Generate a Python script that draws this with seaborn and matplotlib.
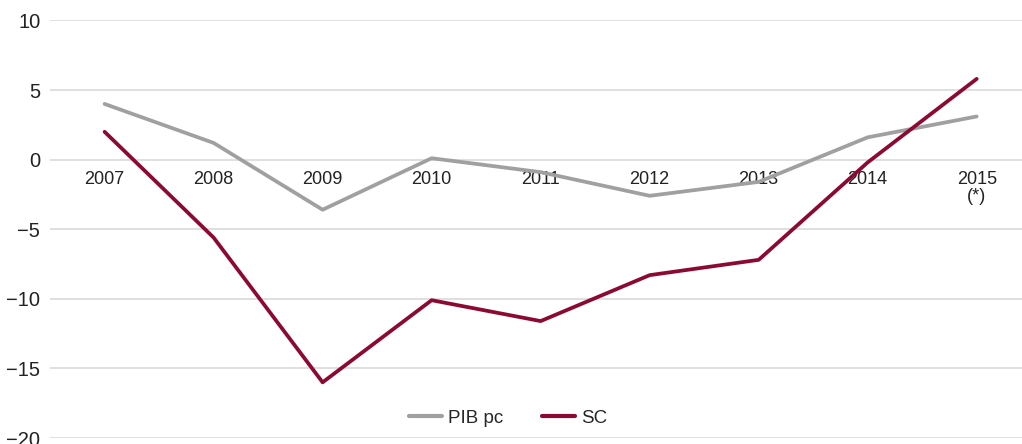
import matplotlib
matplotlib.use('Agg')
import matplotlib.pyplot as plt
import seaborn as sns
import pandas as pd

# data
years = [2007, 2008, 2009, 2010, 2011, 2012, 2013, 2014, 2015]
year_labels = ['2007', '2008', '2009', '2010', '2011', '2012', '2013', '2014', '2015\n(*)']
pib_pc = [4.0, 1.2, -3.6, 0.1, -0.9, -2.6, -1.6, 1.6, 3.1]
sc = [2.0, -5.6, -16.0, -10.1, -11.6, -8.3, -7.2, -0.2, 5.8]

df = pd.DataFrame({
    'year': years * 2,
    'value': pib_pc + sc,
    'serie': ['PIB pc'] * len(years) + ['SC'] * len(years),
})

sns.set_style('whitegrid', {'grid.color': '#d9d9d9'})
plt.rcParams['font.family'] = ['Liberation Sans', 'DejaVu Sans']
plt.rcParams['axes.unicode_minus'] = True

fig = plt.figure(figsize=(10.22, 4.44), dpi=100)
ax = fig.add_axes([0.049, 0.0135, 0.96, 0.9405])

sns.lineplot(data=df, x='year', y='value', hue='serie',
             palette={'PIB pc': '#a0a0a0', 'SC': '#8c0a32'},
             linewidth=2.7, ax=ax, legend=False)

# category labels sit just under the zero line
for name, spine in ax.spines.items():
    spine.set_visible(False)
ax.spines['bottom'].set_position(('data', 0))

ax.set_ylim(-20, 10)
ax.set_yticks([-20, -15, -10, -5, 0, 5, 10])
ax.set_xlim(2006.5, 2015.5)
ax.set_xticks(years)
ax.set_xticklabels(year_labels, linespacing=1.0)
ax.grid(axis='x', visible=False)
ax.grid(axis='y', linewidth=1.2)
ax.set_xlabel('')
ax.set_ylabel('')
ax.tick_params(axis='x', length=0, pad=8, labelsize=13, labelcolor='#222222')
ax.tick_params(axis='y', length=0, pad=7, labelsize=14.5, labelcolor='#222222')

handles = [plt.Line2D([], [], color='#a0a0a0', linewidth=3),
           plt.Line2D([], [], color='#8c0a32', linewidth=3)]
fig.legend(handles, ['PIB pc', 'SC'], loc='center', ncol=2,
           bbox_to_anchor=(0.497, 0.0586), frameon=False, fontsize=13.5,
           handlelength=1.75, handletextpad=0.3, columnspacing=2.1)

fig.savefig('out.png', dpi=100)
